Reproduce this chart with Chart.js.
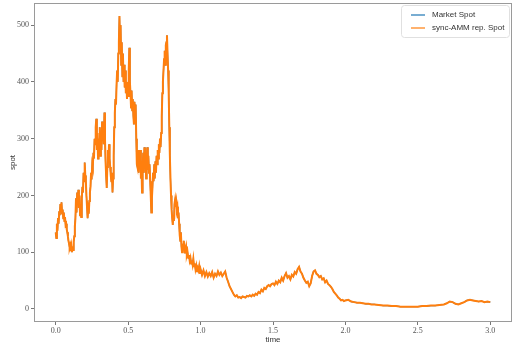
<!DOCTYPE html>
<html>
<head>
<meta charset="utf-8">
<script src="https://cdn.jsdelivr.net/npm/chart.js@4"></script>
<style>
html, body { margin: 0; padding: 0; background: #fff; }
#wrap { width: 515px; height: 347px; }
</style>
</head>
<body>
<div id="wrap"><canvas id="myChart" width="515" height="347"></canvas></div>
<script>
// temps (axe x)
const times = [
  0.000, 0.004, 0.008, 0.012, 0.016, 0.020, 0.024, 0.028, 0.032, 0.036,
  0.040, 0.044, 0.048, 0.052, 0.056, 0.060, 0.064, 0.068, 0.072, 0.076,
  0.080, 0.084, 0.088, 0.092, 0.096, 0.100, 0.104, 0.108, 0.112, 0.116,
  0.120, 0.124, 0.128, 0.132, 0.136, 0.140, 0.144, 0.148, 0.152, 0.156,
  0.160, 0.164, 0.168, 0.172, 0.176, 0.180, 0.184, 0.188, 0.192, 0.196,
  0.200, 0.204, 0.208, 0.212, 0.216, 0.220, 0.224, 0.228, 0.232, 0.236,
  0.240, 0.244, 0.248, 0.252, 0.256, 0.260, 0.264, 0.268, 0.272, 0.276,
  0.280, 0.284, 0.288, 0.292, 0.296, 0.300, 0.304, 0.308, 0.312, 0.316,
  0.320, 0.324, 0.328, 0.332, 0.336, 0.340, 0.344, 0.348, 0.352, 0.356,
  0.360, 0.364, 0.368, 0.372, 0.376, 0.380, 0.384, 0.388, 0.392, 0.396,
  0.400, 0.404, 0.408, 0.412, 0.416, 0.420, 0.424, 0.428, 0.432, 0.436,
  0.440, 0.444, 0.448, 0.452, 0.456, 0.460, 0.464, 0.468, 0.472, 0.476,
  0.480, 0.484, 0.488, 0.492, 0.496, 0.500, 0.504, 0.508, 0.512, 0.516,
  0.520, 0.524, 0.528, 0.532, 0.536, 0.540, 0.544, 0.548, 0.552, 0.556,
  0.560, 0.564, 0.568, 0.572, 0.576, 0.580, 0.584, 0.588, 0.592, 0.596,
  0.600, 0.604, 0.608, 0.612, 0.616, 0.620, 0.624, 0.628, 0.632, 0.636,
  0.640, 0.644, 0.648, 0.652, 0.656, 0.660, 0.664, 0.668, 0.672, 0.676,
  0.680, 0.684, 0.688, 0.692, 0.696, 0.700, 0.704, 0.708, 0.712, 0.716,
  0.720, 0.724, 0.728, 0.732, 0.736, 0.740, 0.744, 0.748, 0.752, 0.756,
  0.760, 0.764, 0.768, 0.772, 0.776, 0.780, 0.784, 0.788, 0.792, 0.796,
  0.800, 0.804, 0.808, 0.812, 0.816, 0.820, 0.824, 0.828, 0.832, 0.836,
  0.840, 0.844, 0.848, 0.852, 0.856, 0.860, 0.864, 0.868, 0.872, 0.876,
  0.880, 0.884, 0.888, 0.892, 0.896, 0.900, 0.905, 0.910, 0.915, 0.920,
  0.925, 0.930, 0.935, 0.940, 0.945, 0.950, 0.955, 0.960, 0.965, 0.970,
  0.975, 0.980, 0.985, 0.990, 0.995, 1.000, 1.010, 1.020, 1.030, 1.040,
  1.050, 1.060, 1.070, 1.080, 1.090, 1.100, 1.110, 1.120, 1.130, 1.140,
  1.150, 1.160, 1.170, 1.180, 1.190, 1.200, 1.210, 1.220, 1.230, 1.240,
  1.250, 1.260, 1.270, 1.280, 1.290, 1.300, 1.310, 1.320, 1.330, 1.340,
  1.350, 1.360, 1.370, 1.380, 1.390, 1.400, 1.410, 1.420, 1.430, 1.440,
  1.450, 1.460, 1.470, 1.480, 1.490, 1.500, 1.510, 1.520, 1.530, 1.540,
  1.550, 1.560, 1.570, 1.580, 1.590, 1.600, 1.610, 1.620, 1.630, 1.640,
  1.650, 1.660, 1.670, 1.680, 1.690, 1.700, 1.710, 1.720, 1.730, 1.740,
  1.750, 1.760, 1.770, 1.780, 1.790, 1.800, 1.810, 1.820, 1.830, 1.840,
  1.850, 1.860, 1.870, 1.880, 1.890, 1.900, 1.910, 1.920, 1.930, 1.940,
  1.950, 1.960, 1.970, 1.980, 1.990, 2.000, 2.020, 2.040, 2.060, 2.080,
  2.100, 2.120, 2.140, 2.160, 2.180, 2.200, 2.230, 2.260, 2.290, 2.320,
  2.350, 2.380, 2.410, 2.440, 2.470, 2.500, 2.530, 2.560, 2.590, 2.620,
  2.650, 2.680, 2.700, 2.720, 2.740, 2.760, 2.780, 2.800, 2.820, 2.840,
  2.860, 2.880, 2.900, 2.920, 2.940, 2.960, 2.980, 3.000
];

// spot du sync-AMM (orange)
const ammSpot = [
  135, 125, 150, 138, 160, 150, 172, 165, 185, 175,
  188, 168, 175, 160, 170, 155, 162, 148, 150, 140,
  135, 128, 120, 115, 108, 112, 102, 110, 100, 106,
  104, 118, 128, 145, 160, 195, 170, 205, 185, 210,
  178, 200, 165, 185, 162, 195, 215, 205, 240, 225,
  258, 235, 225, 200, 180, 160, 175, 168, 190, 205,
  215, 240, 228, 255, 250, 275, 265, 300, 290, 320,
  335, 280, 310, 265, 300, 280, 320, 270, 295, 280,
  330, 300, 320, 290, 346, 300, 260, 235, 213, 250,
  280, 260, 290, 265, 250, 235, 225, 240, 205, 230,
  270, 320, 345, 370, 360, 395, 420, 400, 450, 470,
  516, 470, 500, 430, 470, 410, 450, 400, 430, 390,
  420, 380, 400, 370, 395, 375, 420, 460, 400, 380,
  355, 385, 350, 370, 340, 325, 365, 330, 360, 300,
  255, 250, 280, 240, 275, 250, 280, 230, 250, 205,
  245, 275, 240, 285, 250, 275, 230, 260, 285, 245,
  270, 240, 255, 225, 200, 170, 195, 215, 240, 225,
  255, 230, 260, 240, 270, 255, 280, 265, 290, 275,
  300, 285, 310, 340, 380, 400, 420, 440, 455, 430,
  465, 470, 482, 450, 420, 380, 320, 270, 230, 200,
  175, 160, 148, 165, 155, 185, 192, 180, 188, 175,
  180, 160, 170, 150, 130, 120, 135, 110, 100, 115,
  105, 120, 110, 98, 105, 110, 95, 100, 90, 95,
  85, 90, 80, 85, 78, 88, 75, 80, 70, 76,
  65, 72, 68, 75, 62, 70, 60, 68, 58, 65,
  57, 63, 58, 65, 55, 62, 58, 66, 60, 64,
  58, 62, 66, 55, 48, 40, 35, 30, 25, 22,
  24, 20, 21, 19, 22, 21, 20, 23, 22, 24,
  22, 25, 23, 27, 25, 30, 28, 34, 31, 37,
  35, 40, 42, 40, 44, 45, 42, 48, 44, 50,
  47, 55, 50, 58, 63, 55, 58, 52, 60, 57,
  65, 62, 70, 74, 66, 62, 55, 50, 46, 48,
  40, 45, 58, 66, 68, 62, 60, 56, 58, 52,
  54, 47, 50, 44, 42, 39, 35, 30, 27, 24,
  20, 18, 15, 16, 14, 15, 16, 13, 12, 11,
  11, 10, 9, 9, 8, 8, 7, 6, 6, 5,
  5, 4, 4, 4, 4, 4, 5, 5, 6, 6,
  7, 8, 10, 13, 12, 9, 8, 10, 12, 15,
  16, 15, 14, 13, 14, 12, 13, 12
];

// le spot du marché est confondu avec l'orange sur l'image
const marketSpot = ammSpot;

const seriesLabels = ['Market Spot', 'sync-AMM rep. Spot'];
const xTicks = [0, 0.5, 1, 1.5, 2, 2.5, 3];
const yTicks = [0, 100, 200, 300, 400, 500];

function toPoints(values) {
  return times.map((t, i) => ({ x: t, y: values[i] }));
}

// cadre autour de la zone (comme matplotlib)
const frame = {
  id: 'frame',
  afterDraw(chart) {
    const a = chart.chartArea;
    const ctx = chart.ctx;
    ctx.save();
    ctx.strokeStyle = '#9a9a9a';
    ctx.lineWidth = 1;
    ctx.strokeRect(a.left + 0.5, a.top + 0.5, a.right - a.left - 1, a.bottom - a.top - 1);
    ctx.restore();
  }
};

// légende en haut à droite, dans le graphique
const innerLegend = {
  id: 'innerLegend',
  afterDraw(chart) {
    const a = chart.chartArea;
    const ctx = chart.ctx;
    const w = 108, h = 32;
    const x = a.right - w - 3, y = a.top + 2;
    ctx.save();
    ctx.fillStyle = 'rgba(255,255,255,0.85)';
    ctx.strokeStyle = '#e0e0e0';
    ctx.lineWidth = 1;
    ctx.beginPath();
    ctx.roundRect(x + 0.5, y + 0.5, w, h, 3);
    ctx.fill();
    ctx.stroke();
    ctx.font = '8px "Liberation Sans", Arial, sans-serif';
    ctx.textBaseline = 'middle';
    chart.data.datasets.forEach((ds, i) => {
      const ly = y + 10 + i * 13;
      ctx.strokeStyle = ds.borderColor;
      ctx.lineWidth = 1.2;
      ctx.beginPath();
      ctx.moveTo(x + 10, ly);
      ctx.lineTo(x + 24, ly);
      ctx.stroke();
      ctx.fillStyle = '#333';
      ctx.fillText(ds.label, x + 31, ly);
    });
    ctx.restore();
  }
};

const ctx = document.getElementById('myChart').getContext('2d');
const myChart = new Chart(ctx, {
  type: 'line',
  data: {
    datasets: [{
      label: seriesLabels[0],
      data: toPoints(marketSpot),
      borderColor: '#1f77b4',
      borderWidth: 1.2,
      pointRadius: 0,
      tension: 0,
      order: 1
    }, {
      label: seriesLabels[1],
      data: toPoints(ammSpot),
      borderColor: '#ff7f0e',
      borderWidth: 2,
      pointRadius: 0,
      tension: 0,
      order: 0
    }]
  },
  options: {
    responsive: false,
    animation: false,
    layout: { padding: { top: 3, right: 3, left: 0, bottom: 0 } },
    plugins: {
      legend: { display: false },
      tooltip: { enabled: false }
    },
    scales: {
      x: {
        type: 'linear',
        min: -0.15,
        max: 3.15,
        afterBuildTicks: (scale) => { scale.ticks = xTicks.map(v => ({ value: v })); },
        afterFit: (scale) => { scale.height = 25; scale.paddingRight = 0; scale.paddingLeft = 0; },
        grid: { drawOnChartArea: false, tickLength: 3, color: '#777' },
        border: { display: false },
        ticks: {
          maxRotation: 0,
          padding: 1,
          color: '#555',
          font: { family: '"Liberation Serif", "DejaVu Serif", serif', size: 8 },
          callback: (v) => Number(v).toFixed(1)
        },
        title: {
          display: true,
          text: 'time',
          color: '#333',
          padding: { top: 0, bottom: 2 },
          font: { family: '"Liberation Sans", Arial, sans-serif', size: 8 }
        }
      },
      y: {
        min: -23,
        max: 539,
        afterBuildTicks: (scale) => { scale.ticks = yTicks.map(v => ({ value: v })); },
        afterFit: (scale) => { scale.width = 34; scale.paddingTop = 0; scale.paddingBottom = 0; },
        grid: { drawOnChartArea: false, tickLength: 3, color: '#777' },
        border: { display: false },
        ticks: {
          padding: 2,
          color: '#555',
          font: { family: '"Liberation Serif", "DejaVu Serif", serif', size: 8 }
        },
        title: {
          display: true,
          text: 'spot',
          color: '#333',
          padding: { top: 8, bottom: 0 },
          font: { family: '"Liberation Sans", Arial, sans-serif', size: 8 }
        }
      }
    }
  },
  plugins: [frame, innerLegend]
});
</script>
</body>
</html>
